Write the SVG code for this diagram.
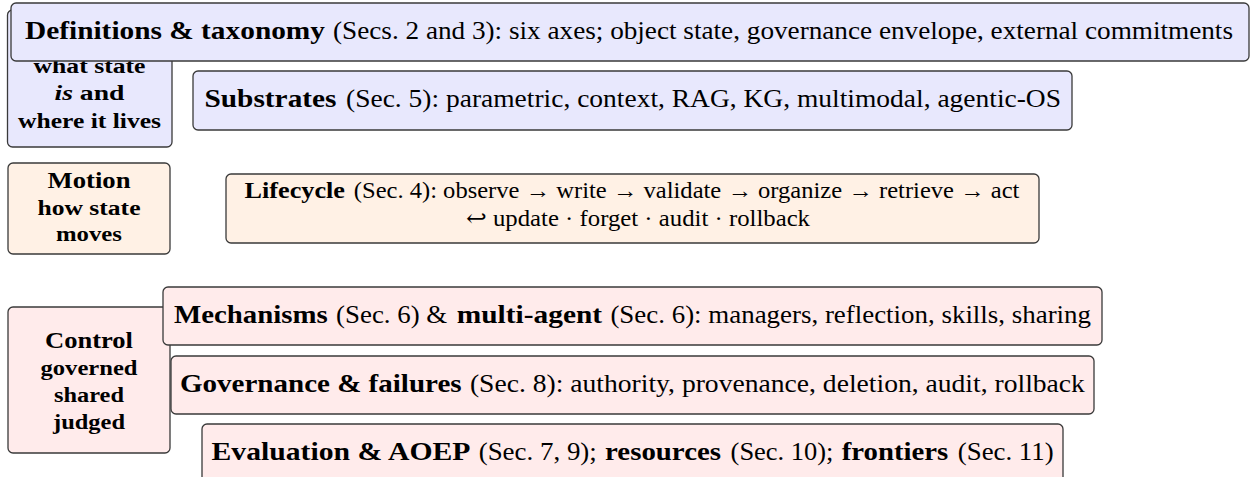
<svg xmlns="http://www.w3.org/2000/svg" width="1252" height="477" viewBox="0 0 1252 477" font-family="'Liberation Serif','DejaVu Serif',serif">
<style>
text{font-family:"Liberation Serif","DejaVu Serif",serif;fill:#000}
.r{font-size:25px}
.s{font-size:23px}
.t{font-size:22.7px;font-weight:bold}
.u{font-size:21.2px;font-weight:bold}
.b{font-weight:bold}
.box{stroke:#3a3a3a;stroke-width:1.3}
.blue{fill:#E8E8FD}
.org{fill:#FFF1E5}
.red{fill:#FFEBEB}
</style>
<g id="label-structure">
<rect class="box blue" x="7.5" y="10" width="164.5" height="137" rx="5"/>
<text class="u" x="89.5" y="72.5" text-anchor="middle" textLength="112" lengthAdjust="spacingAndGlyphs">what state</text>
<text class="u" x="89.5" y="100" text-anchor="middle" textLength="70" lengthAdjust="spacingAndGlyphs"><tspan font-style="italic">is</tspan> and</text>
<text class="u" x="89.5" y="127.5" text-anchor="middle" textLength="143" lengthAdjust="spacingAndGlyphs">where it lives</text>
</g>
<g id="definitions">
<rect class="box blue" x="11" y="3" width="1238" height="58" rx="5"/>
<text class="r b" x="25" y="38.5" textLength="300" lengthAdjust="spacingAndGlyphs">Definitions &amp; taxonomy</text>
<text class="r" x="333" y="38.5" textLength="900" lengthAdjust="spacingAndGlyphs">(Secs. 2 and 3): six axes; object state, governance envelope, external commitments</text>
</g>
<g id="substrates">
<rect class="box blue" x="193" y="71" width="879" height="59" rx="5"/>
<text class="r b" x="204.5" y="107" textLength="132" lengthAdjust="spacingAndGlyphs">Substrates</text>
<text class="r" x="346" y="107" textLength="715" lengthAdjust="spacingAndGlyphs">(Sec. 5): parametric, context, RAG, KG, multimodal, agentic-OS</text>
</g>
<g id="label-motion">
<rect class="box org" x="8" y="163" width="162" height="91" rx="5"/>
<text class="t" x="89" y="188" text-anchor="middle" textLength="83" lengthAdjust="spacingAndGlyphs">Motion</text>
<text class="u" x="89" y="215" text-anchor="middle" textLength="103" lengthAdjust="spacingAndGlyphs">how state</text>
<text class="u" x="89" y="241" text-anchor="middle" textLength="66" lengthAdjust="spacingAndGlyphs">moves</text>
</g>
<g id="lifecycle">
<rect class="box org" x="226" y="174" width="813" height="69" rx="5"/>
<text class="s b" x="244.6" y="198" textLength="100.4" lengthAdjust="spacingAndGlyphs">Lifecycle</text>
<text class="s" x="353.8" y="198" textLength="665.6" lengthAdjust="spacingAndGlyphs">(Sec. 4): observe → write → validate → organize → retrieve → act</text>
<text class="s" x="466" y="225.5" textLength="344" lengthAdjust="spacingAndGlyphs">↩ update · forget · audit · rollback</text>
</g>
<g id="label-control">
<rect class="box red" x="8" y="307" width="162" height="146" rx="5"/>
<text class="t" x="89" y="348" text-anchor="middle" textLength="88" lengthAdjust="spacingAndGlyphs">Control</text>
<text class="u" x="89" y="375" text-anchor="middle" textLength="97" lengthAdjust="spacingAndGlyphs">governed</text>
<text class="u" x="89" y="402" text-anchor="middle" textLength="70" lengthAdjust="spacingAndGlyphs">shared</text>
<text class="u" x="89" y="429" text-anchor="middle" textLength="72" lengthAdjust="spacingAndGlyphs">judged</text>
</g>
<g id="mechanisms">
<rect class="box red" x="163" y="287" width="939" height="58" rx="5"/>
<text class="r b" x="174" y="322.5" textLength="153.8" lengthAdjust="spacingAndGlyphs">Mechanisms</text>
<text class="r" x="336.1" y="322.5" textLength="111.1" lengthAdjust="spacingAndGlyphs">(Sec. 6) &amp;</text>
<text class="r b" x="456.8" y="322.5" textLength="145.3" lengthAdjust="spacingAndGlyphs">multi-agent</text>
<text class="r" x="610.4" y="322.5" textLength="480.6" lengthAdjust="spacingAndGlyphs">(Sec. 6): managers, reflection, skills, sharing</text>
</g>
<g id="governance">
<rect class="box red" x="171" y="356" width="923" height="58" rx="5"/>
<text class="r b" x="180" y="391.5" textLength="281.6" lengthAdjust="spacingAndGlyphs">Governance &amp; failures</text>
<text class="r" x="469.9" y="391.5" textLength="615" lengthAdjust="spacingAndGlyphs">(Sec. 8): authority, provenance, deletion, audit, rollback</text>
</g>
<g id="evaluation">
<rect class="box red" x="202" y="424" width="861" height="70" rx="5"/>
<text class="r b" x="211.5" y="460" textLength="258.9" lengthAdjust="spacingAndGlyphs">Evaluation &amp; AOEP</text>
<text class="r" x="478.7" y="460" textLength="118.1" lengthAdjust="spacingAndGlyphs">(Sec. 7, 9);</text>
<text class="r b" x="605.1" y="460" textLength="115.9" lengthAdjust="spacingAndGlyphs">resources</text>
<text class="r" x="730.6" y="460" textLength="102.8" lengthAdjust="spacingAndGlyphs">(Sec. 10);</text>
<text class="r b" x="841.7" y="460" textLength="106.5" lengthAdjust="spacingAndGlyphs">frontiers</text>
<text class="r" x="957.8" y="460" textLength="95.8" lengthAdjust="spacingAndGlyphs">(Sec. 11)</text>
</g>
<g id="connectors"/>
</svg>
